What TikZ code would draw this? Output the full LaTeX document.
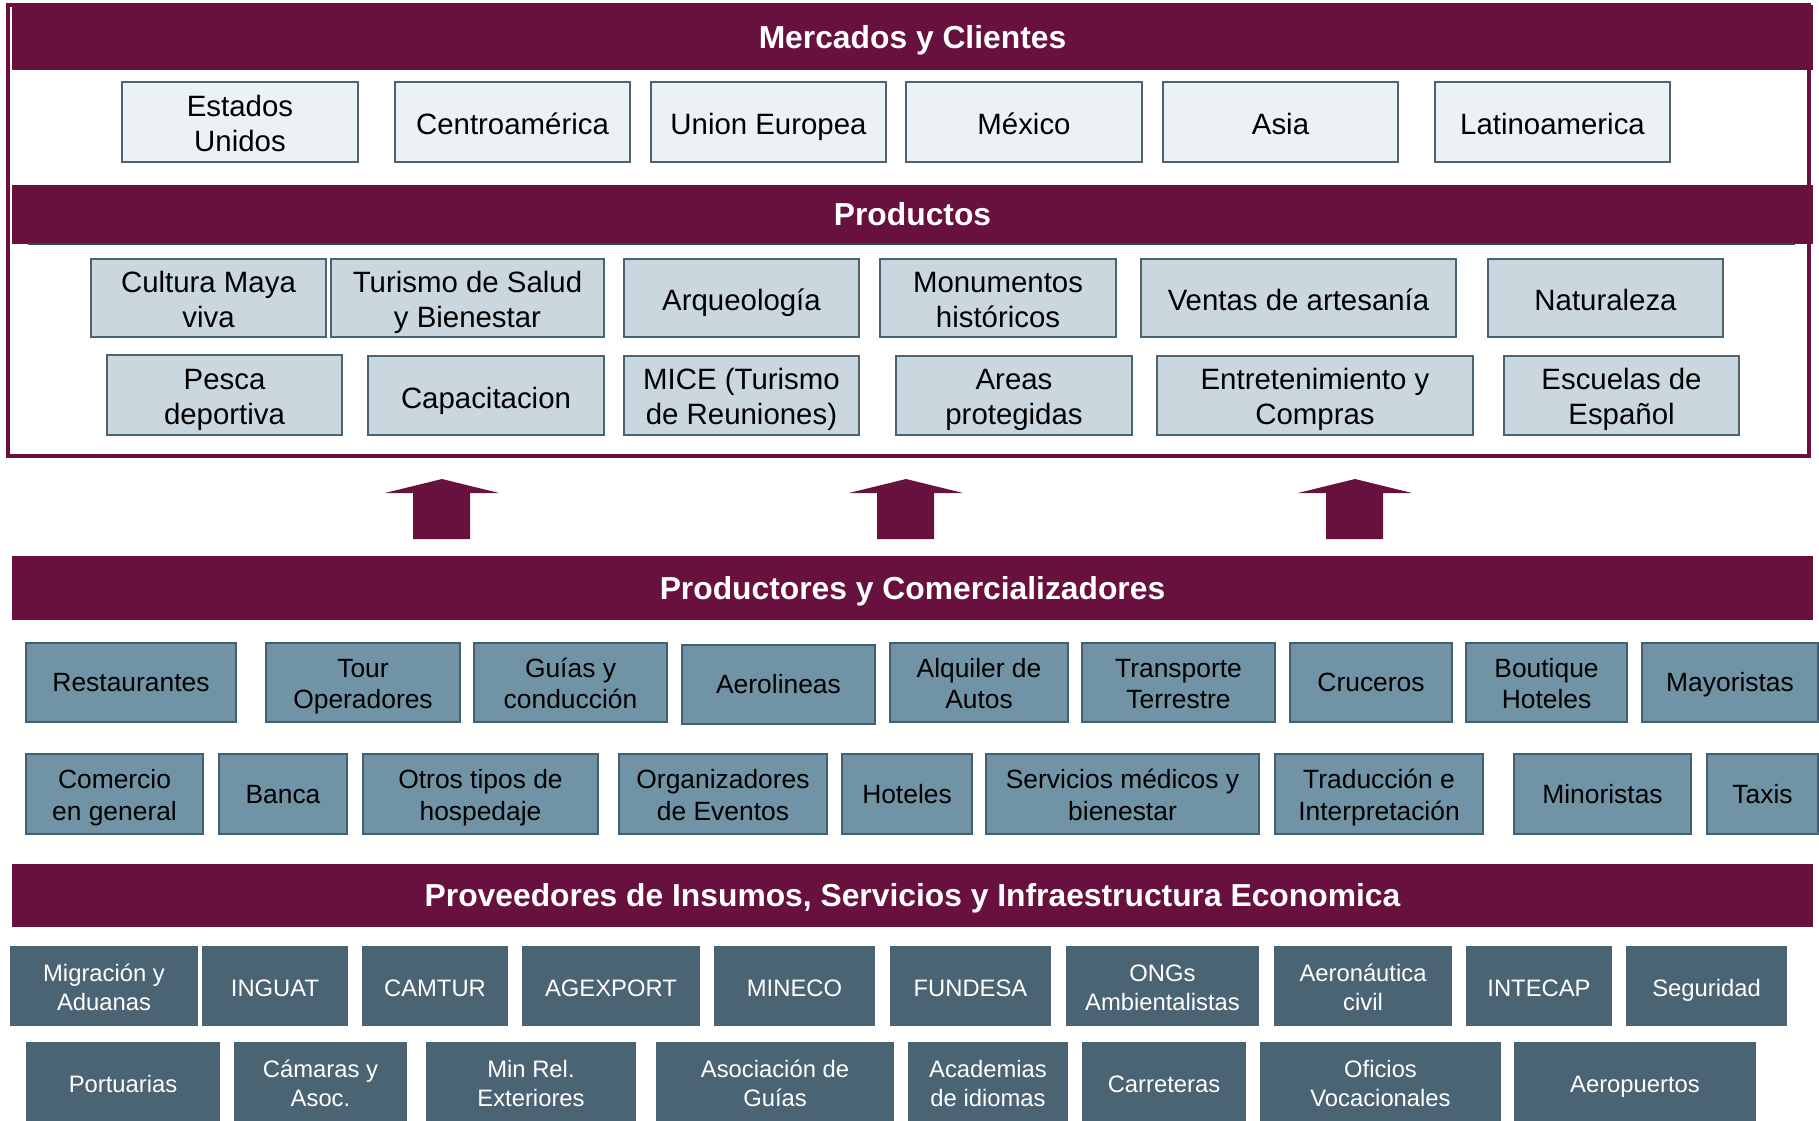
\documentclass[tikz,border=0pt]{standalone}
\usepackage{fontspec}
\setmainfont{Liberation Sans}
\definecolor{maroon}{HTML}{68103E}
\definecolor{teal}{HTML}{24505C}
\definecolor{mkfill}{HTML}{ECF1F3}
\definecolor{prfill}{HTML}{CAD7DF}
\definecolor{boxline}{HTML}{4A6474}
\definecolor{pcfill}{HTML}{7093A5}
\definecolor{pcline}{HTML}{44606F}
\definecolor{pvfill}{HTML}{4A6473}
\newcommand\barstrut{\rule[-0.21\baselineskip]{0pt}{\baselineskip}}
\newcommand\bx[7]{\node[#2, minimum width={(#5-#3)*0.5pt}, minimum height={(#6-#4)*0.5pt}] (#1) at ({(#3+#5)/2},{(#4+#6)/2}) {#7};}
\begin{document}
\begin{tikzpicture}[x=0.5pt,y=-0.5pt,
  every node/.style={inner sep=0pt, outer sep=0pt},
  bar/.style={fill=maroon, text=white, font=\fontsize{15.9}{19}\selectfont\bfseries,
    execute at begin node=\barstrut, execute at end node=\barstrut},
  mk/.style={align=center, text height=13pt, text depth=0.12pt,
    draw=boxline, line width=1.1pt, fill=mkfill, font=\fontsize{14.7}{17.4}\selectfont},
  mk2/.style={text height=29.4pt, text depth=0.24pt},
  pr/.style={mk, fill=prfill},
  pc/.style={align=center, text height=10pt, text depth=0.58pt,
    draw=pcline, line width=1pt, fill=pcfill, font=\fontsize{13.2}{15.7}\selectfont},
  pc2/.style={text height=26.4pt, text depth=0.23pt},
  pv/.style={align=center, text height=11pt, text depth=0.27pt,
    fill=pvfill, text=white, font=\fontsize{11.9}{14.5}\selectfont},
  pv2/.style={text height=24.4pt, text depth=0.29pt},
  blockarrow/.style={fill=maroon}]
\useasboundingbox (0,0) rectangle (1819,1120);
\clip (0,0) rectangle (1819,1120);
% outer frame
\draw[maroon, line width=2pt] (8,5) rectangle (1809,456);
% bars
\bx{tMerc}{bar}{12}{5}{1813}{70}{Mercados y Clientes}
\bx{tProd}{bar}{12}{185}{1813}{244}{Productos}
\draw[teal, line width=1pt] (28,244) -- (1795,244);
\bx{tPC}{bar}{12}{556}{1813}{620}{Productores y Comercializadores}
\bx{tPV}{bar}{12}{864}{1813}{927}{Proveedores de Insumos, Servicios y Infraestructura Economica}
% markets
\bx{mEU}{mk,mk2}{122}{82}{358}{162}{Estados\\Unidos}
\bx{mCA}{mk}{395}{82}{630}{162}{Centroamérica}
\bx{mUE}{mk}{651}{82}{886}{162}{Union Europea}
\bx{mMX}{mk}{906}{82}{1142}{162}{México}
\bx{mAS}{mk}{1163}{82}{1398}{162}{Asia}
\bx{mLA}{mk}{1435}{82}{1670}{162}{Latinoamerica}
% products
\bx{p1}{pr,mk2}{91}{259}{326}{337}{Cultura Maya\\viva}
\bx{p2}{pr,mk2}{331}{259}{604}{337}{Turismo de Salud\\y Bienestar}
\bx{p3}{pr}{624}{259}{859}{337}{Arqueología}
\bx{p4}{pr,mk2}{880}{259}{1116}{337}{Monumentos\\históricos}
\bx{p5}{pr}{1141}{259}{1456}{337}{Ventas de artesanía}
\bx{p6}{pr}{1488}{259}{1723}{337}{Naturaleza}
\bx{p7}{pr,mk2}{107}{355}{342}{435}{Pesca\\deportiva}
\bx{p8}{pr}{368}{356}{604}{435}{Capacitacion}
\bx{p9}{pr,mk2}{624}{356}{859}{435}{MICE (Turismo\\de Reuniones)}
\bx{p10}{pr,mk2}{896}{356}{1132}{435}{Areas\\protegidas}
\bx{p11}{pr,mk2}{1157}{356}{1473}{435}{Entretenimiento y\\Compras}
\bx{p12}{pr,mk2}{1504}{356}{1739}{435}{Escuelas de\\Español}
% arrows
\foreach \n/\cx in {a1/442, a2/906, a3/1355}{
  \coordinate (\n tip) at (\cx,479);
  \fill[blockarrow] (\n tip) -- (\cx+57,493) -- (\cx+28,493) -- (\cx+28,539)
     -- (\cx-29,539) -- (\cx-29,493) -- (\cx-57,493) -- cycle;
}
% producers
\bx{c1}{pc}{26}{643}{236}{722}{Restaurantes}
\bx{c2}{pc,pc2}{266}{643}{460}{722}{Tour\\Operadores}
\bx{c3}{pc,pc2}{474}{643}{667}{722}{Guías y\\conducción}
\bx{c4}{pc}{682}{645}{875}{724}{Aerolineas}
\bx{c5}{pc,pc2}{890}{643}{1068}{722}{Alquiler de\\Autos}
\bx{c6}{pc,pc2}{1082}{643}{1275}{722}{Transporte\\Terrestre}
\bx{c7}{pc}{1290}{643}{1452}{722}{Cruceros}
\bx{c8}{pc,pc2}{1466}{643}{1627}{722}{Boutique\\Hoteles}
\bx{c9}{pc}{1642}{643}{1818}{722}{Mayoristas}
\bx{c10}{pc,pc2}{26}{754}{203}{834}{Comercio\\en general}
\bx{c11}{pc}{219}{754}{347}{834}{Banca}
\bx{c12}{pc,pc2}{363}{754}{598}{834}{Otros tipos de\\hospedaje}
\bx{c13}{pc,pc2}{619}{754}{827}{834}{Organizadores\\de Eventos}
\bx{c14}{pc}{842}{754}{972}{834}{Hoteles}
\bx{c15}{pc,pc2}{986}{754}{1259}{834}{Servicios médicos y\\bienestar}
\bx{c16}{pc,pc2}{1275}{754}{1483}{834}{Traducción e\\Interpretación}
\bx{c17}{pc}{1514}{754}{1691}{834}{Minoristas}
\bx{c18}{pc}{1707}{754}{1818}{834}{Taxis}
% providers
\bx{v1}{pv,pv2}{10}{946}{198}{1026}{Migración y\\Aduanas}
\bx{v2}{pv}{202}{946}{348}{1026}{INGUAT}
\bx{v3}{pv}{362}{946}{508}{1026}{CAMTUR}
\bx{v4}{pv}{522}{946}{700}{1026}{AGEXPORT}
\bx{v5}{pv}{714}{946}{875}{1026}{MINECO}
\bx{v6}{pv}{890}{946}{1051}{1026}{FUNDESA}
\bx{v7}{pv,pv2}{1066}{946}{1259}{1026}{ONGs\\Ambientalistas}
\bx{v8}{pv,pv2}{1274}{946}{1452}{1026}{Aeronáutica\\civil}
\bx{v9}{pv}{1466}{946}{1612}{1026}{INTECAP}
\bx{v10}{pv}{1626}{946}{1787}{1026}{Seguridad}
\bx{v11}{pv}{26}{1042}{220}{1122}{Portuarias}
\bx{v12}{pv,pv2}{234}{1042}{407}{1122}{Cámaras y\\Asoc.}
\bx{v13}{pv,pv2}{426}{1042}{636}{1122}{Min Rel.\\Exteriores}
\bx{v14}{pv,pv2}{656}{1042}{894}{1122}{Asociación de\\Guías}
\bx{v15}{pv,pv2}{908}{1042}{1068}{1122}{Academias\\de idiomas}
\bx{v16}{pv}{1082}{1042}{1246}{1122}{Carreteras}
\bx{v17}{pv,pv2}{1260}{1042}{1501}{1122}{Oficios\\Vocacionales}
\bx{v18}{pv}{1514}{1042}{1756}{1122}{Aeropuertos}
\end{tikzpicture}
\end{document}
